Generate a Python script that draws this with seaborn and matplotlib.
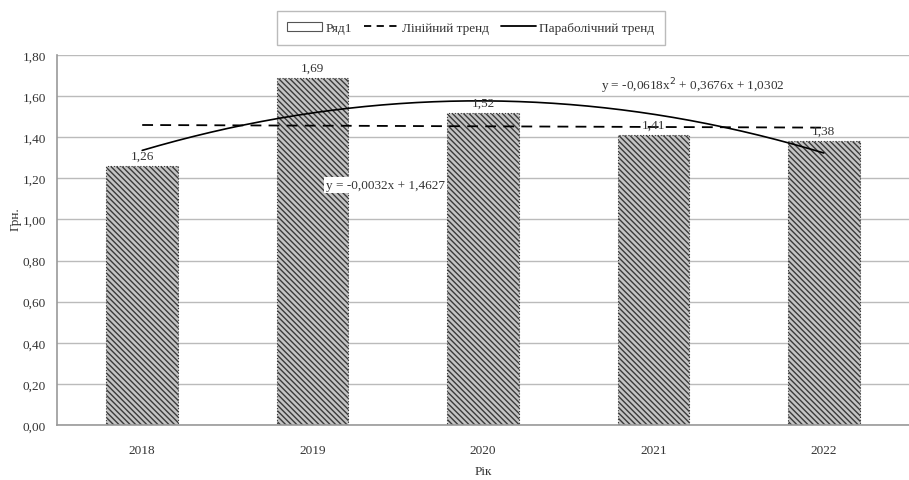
import numpy as np
import pandas as pd
import matplotlib
matplotlib.use("Agg")
import matplotlib.pyplot as plt
import seaborn as sns
from matplotlib.patches import Patch
from matplotlib.lines import Line2D

# --- Дані ---
years = ['2018', '2019', '2020', '2021', '2022']
values = [1.26, 1.69, 1.52, 1.41, 1.38]
value_labels = ['1,26', '1,69', '1,52', '1,41', '1,38']
lin_coef = [-0.0032, 1.4627]            # y = a*x + b
par_coef = [-0.0618, 0.3676, 1.0302]    # y = a*x^2 + b*x + c
y_ticks = [0.0, 0.2, 0.4, 0.6, 0.8, 1.0, 1.2, 1.4, 1.6, 1.8]

df = pd.DataFrame({'Рік': years, 'Грн.': values})

sns.set_style("white")
plt.rcParams['font.family'] = ['Liberation Serif', 'DejaVu Serif']
plt.rcParams['hatch.linewidth'] = 1.0

fig = plt.figure(figsize=(9.09, 4.81), dpi=100)
ax = fig.add_axes([57 / 909, 1 - 426 / 481, 1 - 57 / 909, (426 - 56) / 481])

sns.barplot(data=df, x='Рік', y='Грн.', ax=ax, width=0.42, color='#c4c4c4',
            edgecolor='#3a3a3a', linewidth=0.8, hatch='\\\\\\\\\\\\')
for p in ax.patches:
    p.set_linestyle(':')

# трендові лінії (x = 1..5 відповідає позиціям 0..4)
xs = np.arange(1, len(years) + 1)
ax.plot(xs - 1, np.polyval(lin_coef, xs), color='black', lw=1.3, ls=(0, (6, 4)))
xf = np.linspace(1, len(years), 200)
ax.plot(xf - 1, np.polyval(par_coef, xf), color='black', lw=1.2)

ax.bar_label(ax.containers[0], labels=value_labels, padding=3, fontsize=9.5, color='#333333')

ax.text(1.43, 1.168, 'y = -0,0032x + 1,4627', ha='center', va='center', fontsize=9.5,
        color='#333333', bbox=dict(facecolor='white', edgecolor='none', pad=1.5))
ax.text(3.23, 1.655, 'y = -0,0618x$^2$ + 0,3676x + 1,0302', ha='center', va='center',
        fontsize=9.5, color='#333333')

ax.set_ylim(0, 1.8)
ax.set_xlim(-0.5, -0.5 + (909 - 57) / 172.5)
ax.set_yticks(y_ticks)
ax.set_yticklabels([f'{v:.2f}'.replace('.', ',') for v in y_ticks], fontsize=9.5, color='#333333')
ax.set_xticks(range(len(years)))
ax.set_xticklabels(years, fontsize=9.5, color='#333333')
ax.set_xticks(np.arange(-0.5, len(years), 1), minor=True)
ax.tick_params(axis='x', which='major', length=0, pad=14)
ax.tick_params(axis='x', which='minor', length=4, color='#888888', direction='out')
ax.tick_params(axis='y', length=4, color='#888888', direction='out', pad=4)
ax.yaxis.grid(True, color='#bbbbbb', lw=1)
ax.set_axisbelow(True)

for s in ['top', 'right']:
    ax.spines[s].set_visible(False)
for s in ['left', 'bottom']:
    ax.spines[s].set_color('#999999')
    ax.spines[s].set_linewidth(1.2)

ax.set_xlabel('Рік', fontsize=9.5, color='#333333', labelpad=6)
ax.set_ylabel('Грн.', fontsize=9.5, color='#333333')
ax.yaxis.set_label_coords(-0.042, 0.56)

handles = [Patch(facecolor='white', edgecolor='#555555', lw=0.8),
           Line2D([], [], color='black', lw=1.3, ls=(0, (4, 3))),
           Line2D([], [], color='black', lw=1.3)]
leg = fig.legend(handles, ['Ряд1', 'Лінійний тренд', 'Параболічний тренд'],
                 loc='center', bbox_to_anchor=(471 / 909, 1 - 29 / 481), ncol=3,
                 fontsize=9.5, frameon=True, fancybox=False, handlelength=2.6,
                 handletextpad=0.3, columnspacing=0.9, borderpad=0.8, borderaxespad=0)
leg.get_frame().set_edgecolor('#aaaaaa')
leg.get_frame().set_linewidth(1)
for t in leg.get_texts():
    t.set_color('#333333')
leg._legend_box.align = 'right'

fig.savefig('out.png', dpi=100)
